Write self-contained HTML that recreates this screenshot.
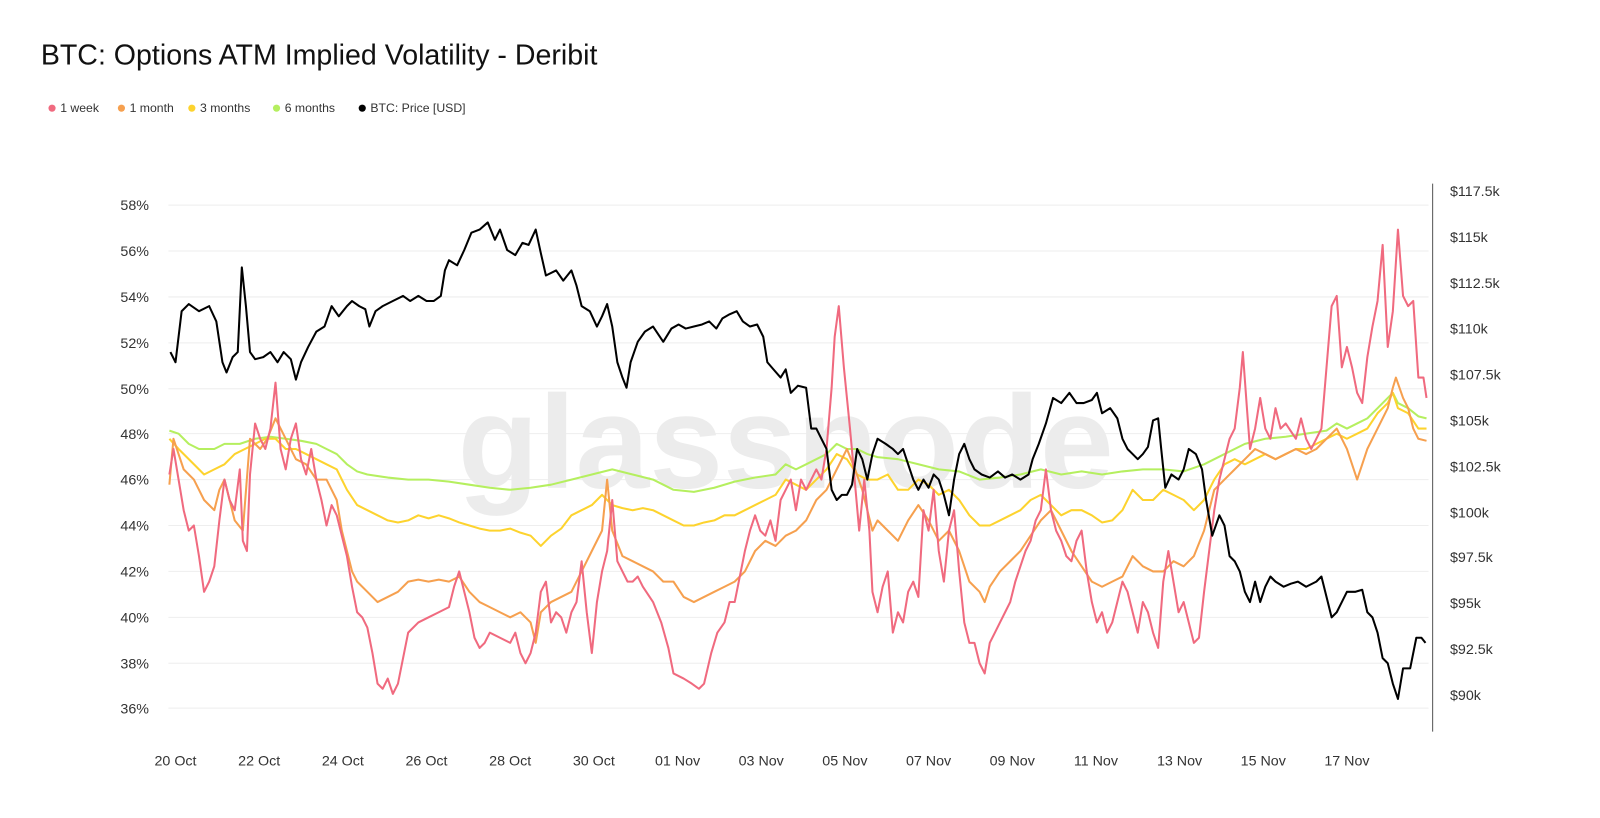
<!DOCTYPE html>
<html><head><meta charset="utf-8"><style>
html,body{margin:0;padding:0;background:#fff;}
body{width:1600px;height:813px;overflow:hidden;font-family:"Liberation Sans",sans-serif;}
</style></head><body>
<svg width="1600" height="813" xmlns="http://www.w3.org/2000/svg" font-family="Liberation Sans, sans-serif">
<g transform="scale(1.0204)">
<text x="40" y="63" font-size="28" fill="#111">BTC: Options ATM Implied Volatility - Deribit</text>
<g font-size="12" fill="#333">
<circle cx="51" cy="106" r="3.5" fill="#f06a7f"/><text x="59" y="110">1 week</text>
<circle cx="119" cy="106" r="3.5" fill="#f6a04f"/><text x="127" y="110">1 month</text>
<circle cx="188" cy="106" r="3.5" fill="#fdd32e"/><text x="196" y="110">3 months</text>
<circle cx="271" cy="106" r="3.5" fill="#b5ef5f"/><text x="279" y="110">6 months</text>
<circle cx="355" cy="106" r="3.5" fill="#000"/><text x="363" y="110">BTC: Price [USD]</text>
</g>
<g stroke="#eeeeee" stroke-width="1">
<line x1="165" x2="1400" y1="201" y2="201"/><line x1="165" x2="1400" y1="246" y2="246"/>
<line x1="165" x2="1400" y1="291" y2="291"/><line x1="165" x2="1400" y1="336" y2="336"/>
<line x1="165" x2="1400" y1="381" y2="381"/><line x1="165" x2="1400" y1="425" y2="425"/>
<line x1="165" x2="1400" y1="470" y2="470"/><line x1="165" x2="1400" y1="515" y2="515"/>
<line x1="165" x2="1400" y1="560" y2="560"/><line x1="165" x2="1400" y1="605" y2="605"/>
<line x1="165" x2="1400" y1="650" y2="650"/><line x1="165" x2="1400" y1="694" y2="694"/>
</g>
<text x="770" y="478" font-size="130" fill="#ececec" text-anchor="middle" font-weight="bold">glassnode</text>
<line x1="1404" y1="180" x2="1404" y2="717" stroke="#555" stroke-width="1"/>
<g font-size="14" fill="#333" text-anchor="end">
<text x="146" y="206">58%</text><text x="146" y="251">56%</text><text x="146" y="296">54%</text>
<text x="146" y="341">52%</text><text x="146" y="386">50%</text><text x="146" y="430">48%</text>
<text x="146" y="475">46%</text><text x="146" y="520">44%</text><text x="146" y="565">42%</text>
<text x="146" y="610">40%</text><text x="146" y="655">38%</text><text x="146" y="699">36%</text>
</g>
<g font-size="14" fill="#333">
<text x="1421" y="192">$117.5k</text><text x="1421" y="237">$115k</text><text x="1421" y="282">$112.5k</text>
<text x="1421" y="327">$110k</text><text x="1421" y="372">$107.5k</text><text x="1421" y="417">$105k</text>
<text x="1421" y="462">$102.5k</text><text x="1421" y="507">$100k</text><text x="1421" y="551">$97.5k</text>
<text x="1421" y="596">$95k</text><text x="1421" y="641">$92.5k</text><text x="1421" y="686">$90k</text>
</g>
<g font-size="14" fill="#333" text-anchor="middle">
<text x="172" y="750">20 Oct</text><text x="254" y="750">22 Oct</text><text x="336" y="750">24 Oct</text>
<text x="418" y="750">26 Oct</text><text x="500" y="750">28 Oct</text><text x="582" y="750">30 Oct</text>
<text x="664" y="750">01 Nov</text><text x="746" y="750">03 Nov</text><text x="828" y="750">05 Nov</text>
<text x="910" y="750">07 Nov</text><text x="992" y="750">09 Nov</text><text x="1074" y="750">11 Nov</text>
<text x="1156" y="750">13 Nov</text><text x="1238" y="750">15 Nov</text><text x="1320" y="750">17 Nov</text>
</g>
<g fill="none" stroke-width="2" stroke-linejoin="round">
<polyline stroke="#b5ef5f" points="166,422 175,425 185,435 195,440 210,440 220,435 235,435 250,430 265,428 280,430 295,432 310,435 320,440 330,445 340,455 350,462 360,465 380,468 400,470 420,470 440,472 460,475 480,478 500,480 520,478 540,475 560,470 580,465 600,460 620,465 640,470 660,480 680,482 700,478 720,472 740,468 760,465 770,455 780,460 790,455 800,450 810,445 820,435 830,440 840,440 850,445 860,448 880,450 900,455 920,460 940,462 960,470 980,468 1000,465 1020,460 1040,465 1060,462 1080,465 1100,462 1120,460 1140,460 1160,462 1180,455 1200,445 1220,435 1240,430 1260,428 1280,425 1300,422 1310,415 1320,420 1330,415 1340,410 1350,400 1360,390 1365,385 1370,395 1380,400 1390,408 1398,410"/>
<polyline stroke="#fdd32e" points="166,430 175,440 190,455 200,465 210,460 220,455 230,445 240,440 250,435 260,430 270,430 280,440 290,440 300,445 310,450 320,455 330,460 340,480 350,495 360,500 370,505 380,510 390,512 400,510 410,505 420,508 430,505 440,508 450,512 460,515 470,518 480,520 490,520 500,518 510,522 520,525 530,535 540,525 550,518 560,505 570,500 580,495 590,485 600,495 610,498 620,500 630,498 640,500 650,505 660,510 670,515 680,515 690,512 700,510 710,505 720,505 730,500 740,495 750,490 760,485 770,470 780,475 790,480 800,470 810,460 820,445 830,450 840,465 850,470 860,470 870,465 880,480 890,480 900,470 910,475 920,485 930,480 940,490 950,505 960,515 970,515 980,510 990,505 1000,500 1010,490 1020,485 1030,495 1040,505 1050,500 1060,500 1070,505 1080,512 1090,510 1100,500 1110,480 1120,490 1130,490 1140,480 1150,485 1160,490 1170,500 1180,490 1190,470 1200,455 1210,450 1220,455 1230,450 1240,445 1250,450 1260,445 1270,440 1280,440 1290,435 1300,430 1310,425 1320,430 1330,425 1340,420 1350,405 1360,395 1365,385 1370,400 1380,405 1390,420 1398,420"/>
<polyline stroke="#f6a04f" points="166,475 170,430 180,460 190,470 200,490 210,500 215,480 220,470 230,510 238,520 245,430 255,440 262,430 270,410 280,430 290,450 300,455 310,470 320,470 330,490 335,520 340,540 345,560 350,570 360,580 370,590 380,585 390,580 400,570 410,568 420,570 430,568 440,570 450,565 460,580 470,590 480,595 490,600 500,605 510,600 520,610 525,630 530,600 540,590 550,585 560,580 570,560 580,540 590,520 595,470 600,520 610,545 620,550 630,555 640,560 650,570 660,570 670,585 680,590 690,585 700,580 710,575 720,570 730,560 740,540 750,530 760,535 770,525 780,520 790,510 800,490 810,480 820,460 830,440 838,460 845,480 850,500 855,520 860,510 870,520 880,530 890,510 900,495 910,510 920,530 930,520 940,540 950,570 960,580 965,590 970,575 980,560 990,550 1000,540 1010,525 1020,510 1030,500 1040,520 1050,540 1060,555 1070,570 1080,575 1090,570 1100,565 1110,545 1120,555 1130,560 1140,560 1150,550 1160,555 1170,545 1180,520 1190,480 1200,470 1210,460 1220,450 1230,440 1240,445 1250,450 1260,445 1270,440 1280,445 1290,440 1300,430 1310,420 1320,440 1330,470 1335,455 1340,440 1350,420 1360,400 1365,380 1368,370 1375,390 1380,400 1385,420 1390,430 1398,432"/>
<polyline stroke="#f06a7f" points="166,465 170,440 175,470 180,500 185,520 190,515 195,545 200,580 205,570 210,555 215,510 220,470 225,490 230,500 235,460 238,530 242,540 245,465 250,415 255,430 260,440 265,420 270,375 275,440 280,460 285,430 290,415 295,450 300,465 305,440 310,470 315,490 320,515 325,495 330,505 335,525 340,545 345,575 350,600 355,605 360,615 365,640 370,670 375,675 380,665 385,680 390,670 395,645 400,620 410,610 420,605 430,600 440,595 445,575 450,560 455,580 460,600 465,625 470,635 475,630 480,620 490,625 500,630 505,620 510,640 515,650 520,640 525,620 530,580 535,570 540,610 545,600 550,605 555,620 560,600 565,590 570,550 575,600 580,640 585,590 590,560 595,540 600,490 605,550 610,560 615,570 620,570 625,565 630,575 640,590 648,610 655,635 660,660 670,665 678,670 685,675 690,670 697,640 703,620 710,610 715,590 720,590 730,540 735,520 740,505 745,520 750,525 755,510 760,530 765,490 770,480 775,470 780,500 785,470 790,480 795,470 800,460 805,470 810,440 815,380 818,330 822,300 827,360 830,390 833,420 838,475 842,520 847,470 852,520 855,580 860,600 865,575 870,560 875,620 880,600 885,610 890,580 895,570 900,585 905,500 910,520 915,480 920,540 925,570 930,520 935,500 940,560 945,610 950,630 955,630 960,650 965,660 970,630 975,620 980,610 985,600 990,590 995,570 1000,555 1005,540 1010,530 1015,510 1020,500 1025,460 1030,500 1035,520 1040,530 1045,545 1050,550 1055,530 1060,520 1065,560 1070,590 1075,610 1080,600 1085,620 1090,610 1095,590 1100,570 1105,580 1110,600 1115,620 1120,590 1125,600 1130,620 1135,635 1140,570 1145,540 1150,570 1155,600 1160,590 1165,610 1170,630 1175,625 1180,580 1185,540 1190,500 1195,470 1200,450 1205,430 1210,420 1215,380 1218,345 1222,400 1225,440 1230,420 1235,390 1240,420 1245,430 1250,400 1255,420 1260,415 1270,430 1275,410 1280,430 1285,440 1290,430 1295,420 1300,360 1305,300 1310,290 1315,360 1320,340 1325,360 1330,385 1335,395 1340,350 1345,320 1350,295 1355,240 1360,340 1365,305 1370,225 1375,290 1380,300 1385,295 1390,370 1395,370 1398,390"/>
<polyline stroke="#000" points="167,345 172,355 178,305 185,298 195,305 205,300 212,315 218,355 222,365 228,350 233,345 237,262 241,300 245,345 250,352 258,350 265,345 272,355 278,345 285,352 290,372 295,355 302,340 310,325 318,320 325,300 332,310 340,300 345,295 352,300 358,303 362,320 368,305 375,300 385,295 395,290 402,295 410,290 418,295 425,295 432,290 436,265 440,255 448,260 455,245 462,228 470,225 478,218 485,235 490,225 497,245 505,250 512,238 518,240 525,225 530,248 535,270 545,265 552,275 560,265 565,280 570,300 578,305 585,320 590,310 595,298 600,320 605,355 610,370 614,380 618,355 625,335 632,325 640,320 650,335 658,322 665,318 672,322 680,320 688,318 695,315 702,322 708,312 715,308 722,305 728,315 735,320 742,318 748,330 752,355 758,362 765,370 770,362 775,385 782,378 790,380 795,420 800,420 805,430 810,440 815,480 820,490 825,485 830,485 835,475 840,440 845,450 850,470 855,445 860,430 868,435 875,440 880,445 885,440 890,455 895,470 900,480 905,470 910,478 915,465 920,470 925,485 930,505 935,470 940,445 945,435 950,450 955,460 962,465 970,468 978,462 985,468 992,465 1000,470 1008,465 1012,450 1018,435 1025,415 1032,390 1040,395 1048,385 1055,395 1062,395 1070,392 1075,385 1080,405 1088,400 1095,410 1100,430 1105,440 1110,445 1115,450 1120,445 1125,438 1130,412 1135,410 1138,440 1142,478 1148,465 1155,470 1160,460 1165,440 1172,445 1178,460 1182,490 1188,525 1195,505 1200,515 1205,545 1210,550 1215,560 1220,580 1225,590 1230,570 1235,590 1240,575 1245,565 1250,570 1258,575 1265,572 1272,570 1280,575 1290,570 1295,565 1300,585 1305,605 1310,600 1315,590 1320,580 1328,580 1335,578 1340,600 1345,605 1350,620 1355,645 1360,650 1365,670 1370,685 1375,655 1382,655 1388,625 1393,625 1397,630"/>
</g>
</g>
</svg>
</body></html>
